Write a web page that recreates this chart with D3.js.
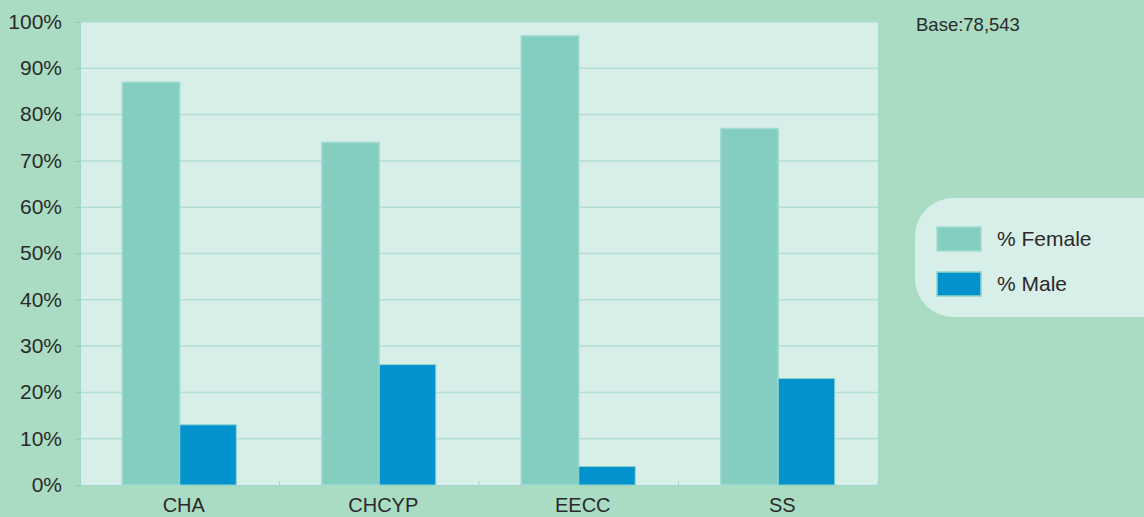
<!DOCTYPE html>
<html>
<head>
<meta charset="utf-8">
<script src="https://cdn.jsdelivr.net/npm/d3@7"></script>
<style>
  html, body { margin: 0; padding: 0; background: #aadcc4; }
  svg { display: block; font-family: "Liberation Sans", Arial, sans-serif; }
</style>
</head>
<body>
<svg id="chart" width="1144" height="517"></svg>
<script>
// chart data
const categories = ['CHA', 'CHCYP', 'EECC', 'SS'];
const femaleValues = [87, 74, 97, 77];
const maleValues = [13, 26, 4, 23];
const seriesNames = ['% Female', '% Male'];
const yTicks = [0, 10, 20, 30, 40, 50, 60, 70, 80, 90, 100];
const baseLabel = 'Base:78,543';

const colors = { female: '#83cec1', male: '#0293cf', femaleStroke: '#a3dbd0', maleStroke: '#8fd3cb' };

const svg = d3.select('#chart');
const m = { left: 80, right: 266, top: 22, bottom: 32 };
const W = 1144, H = 517;
const x0 = m.left, x1 = W - m.right, yTop = m.top, yBot = H - m.bottom;

svg.append('rect').attr('width', W).attr('height', H).attr('fill', '#aadcc4');
svg.append('rect').attr('x', x0).attr('y', yTop).attr('width', x1 - x0).attr('height', yBot - yTop).attr('fill', '#d8eee8');

const x = d3.scaleBand().domain(categories).range([x0, x1]).paddingInner(0).paddingOuter(0);
const y = d3.scaleLinear().domain([0, 100]).range([yBot, yTop]);

// gridlines
svg.append('g').selectAll('line').data(yTicks.filter(t => t > 0)).enter().append('line')
  .attr('x1', x0).attr('x2', x1)
  .attr('y1', d => y(d)).attr('y2', d => y(d))
  .attr('stroke', '#b3ddd7').attr('stroke-width', 1.5);

// y axis
const yAxis = svg.append('g').attr('transform', `translate(${x0},0)`)
  .call(d3.axisLeft(y).tickValues(yTicks).tickFormat(d => d + '%').tickSize(5).tickPadding(13));
yAxis.select('.domain').attr('stroke', '#9fd6cf');
yAxis.selectAll('.tick line').attr('stroke', '#7fcfc8');
yAxis.selectAll('text').attr('font-size', 21).attr('fill', '#2a2a2a').attr('dy', '0.3em');

// x axis
const xAxis = svg.append('g').attr('transform', `translate(0,${yBot})`)
  .call(d3.axisBottom(x).tickSize(0).tickPadding(10));
xAxis.select('.domain').attr('stroke', '#9fd6cf');
xAxis.selectAll('text').attr('font-size', 20).attr('fill', '#2a2a2a').attr('dy', '0.85em').attr('dx', 4);
// boundary ticks between categories
svg.append('g').selectAll('line').data(categories.slice(1).concat(['end'])).enter().append('line')
  .attr('x1', (d, i) => x0 + x.bandwidth() * (i + 1)).attr('x2', (d, i) => x0 + x.bandwidth() * (i + 1))
  .attr('y1', yBot - 4).attr('y2', yBot + 2)
  .attr('stroke', '#9fd6cf');

// bars
const barW = 57.5;
const bars = svg.append('g');
categories.forEach((c, i) => {
  const cx = x(c) + x.bandwidth() / 2;
  bars.append('rect')
    .attr('x', cx - barW).attr('width', barW)
    .attr('y', y(femaleValues[i])).attr('height', yBot - y(femaleValues[i]))
    .attr('fill', colors.female).attr('stroke', colors.femaleStroke).attr('stroke-width', 1.5);
  bars.append('rect')
    .attr('x', cx).attr('width', barW - 1)
    .attr('y', y(maleValues[i])).attr('height', yBot - y(maleValues[i]))
    .attr('fill', colors.male).attr('stroke', colors.maleStroke).attr('stroke-width', 1);
});

// base label
svg.append('text').attr('x', 916).attr('y', 31).attr('font-size', 18.5).attr('fill', '#2a2a2a').text(baseLabel);

// legend
const lg = svg.append('g');
lg.append('rect').attr('x', 915).attr('y', 198).attr('width', 270).attr('height', 119).attr('rx', 38)
  .attr('fill', '#d8eee8');
const legendColors = [[colors.female, colors.femaleStroke], [colors.male, colors.maleStroke]];
seriesNames.forEach((n, i) => {
  const yy = 227 + i * 45;
  lg.append('rect').attr('x', 937).attr('y', yy).attr('width', 44).attr('height', 24)
    .attr('fill', legendColors[i][0]).attr('stroke', legendColors[i][1]).attr('stroke-width', 1.5);
  lg.append('text').attr('x', 997).attr('y', yy + 19).attr('font-size', 21).attr('fill', '#2a2a2a').text(n);
});
</script>
</body>
</html>
